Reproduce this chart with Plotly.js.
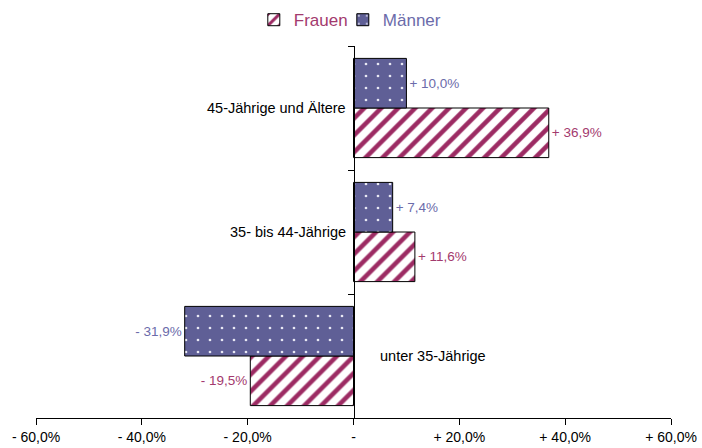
<!DOCTYPE html>
<html>
<head>
<meta charset="utf-8">
<script src="https://cdn.plot.ly/plotly-3.0.1.min.js"></script>
<style>html,body{margin:0;padding:0;background:#fff;}#chart{width:702px;height:448px;}</style>
</head>
<body>
<div id="chart"></div>
<script>
// Data
const categories = ["unter 35-Jährige", "35- bis 44-Jährige", "45-Jährige und Ältere"];
const frauen = [-19.5, 11.6, 36.9];
const maenner = [-31.9, 7.4, 10.0];
const tickValues = [-60, -40, -20, 0, 20, 40, 60];
const tickLabels = ["- 60,0%", "- 40,0%", "- 20,0%", "-", "+ 20,0%", "+ 40,0%", "+ 60,0%"];

const FR_COLOR = "#9c2b63";
const FR_TEXT = "#a33a6e";
const MA_COLOR = "#5f5f96";
const MA_TEXT = "#6b6baa";
const FONT = "Liberation Sans, Arial, sans-serif";

function fmt(v) {
  const s = Math.abs(v).toFixed(1).replace(".", ",");
  return (v < 0 ? "- " : "+ ") + s + "%";
}

const traces = [
  {
    type: "bar", orientation: "h",
    name: '<span style="color:' + FR_TEXT + '">Frauen</span>',
    legendwidth: 44,
    y: categories, x: frauen,
    text: frauen.map(fmt), textposition: "outside", cliponaxis: false,
    textfont: {family: FONT, size: 13.5, color: FR_TEXT},
    marker: {
      color: "#ffffff",
      line: {color: "#000000", width: 1},
      pattern: {shape: "/", fgcolor: FR_COLOR, bgcolor: "#ffffff", size: 12, solidity: 0.38, fillmode: "replace"}
    },
    hoverinfo: "skip"
  },
  {
    type: "bar", orientation: "h",
    name: '<span style="color:' + MA_TEXT + '">Männer</span>',
    legendwidth: 75,
    y: categories, x: maenner,
    text: maenner.map(fmt), textposition: "outside", cliponaxis: false,
    textfont: {family: FONT, size: 13.5, color: MA_TEXT},
    marker: {
      color: MA_COLOR,
      line: {color: "#000000", width: 1},
      pattern: {shape: ".", fgcolor: "#e8e8f4", bgcolor: MA_COLOR, size: 12, solidity: 0.04, fillmode: "replace"}
    },
    hoverinfo: "skip"
  }
];

// category labels placed next to the zero line
const annotations = categories.map((c, i) => {
  const right = frauen[i] < 0 && maenner[i] < 0;
  return {
    x: 0, y: c, xref: "x", yref: "y", text: c, showarrow: false,
    xanchor: right ? "left" : "right",
    xshift: right ? 24 : -6,
    font: {family: FONT, size: 14.5, color: "#000000"}
  };
});

const layout = {
  width: 702, height: 448,
  margin: {l: 36, r: 31, t: 46, b: 30},
  paper_bgcolor: "#ffffff", plot_bgcolor: "#ffffff",
  barmode: "group", bargap: 0.2, bargroupgap: 0,
  showlegend: true,
  legend: {
    orientation: "h", x: 0.343, xanchor: "left",
    yref: "container", y: 0.955, yanchor: "middle",
    font: {family: FONT, size: 17}, traceorder: "normal",
    itemwidth: 30, tracegroupgap: 0,
    entrywidthmode: "pixels"
  },
  xaxis: {
    range: [-60, 60], tickvals: tickValues, ticktext: tickLabels,
    showgrid: false, zeroline: false, showline: true, linecolor: "#000000", linewidth: 1,
    ticks: "outside", ticklen: 6, tickcolor: "#000000",
    tickfont: {family: FONT, size: 14, color: "#000000"}
  },
  yaxis: {
    type: "category", categoryorder: "array", categoryarray: categories,
    anchor: "free", position: 0.5,
    showgrid: false, zeroline: false, showline: true, linecolor: "#000000", linewidth: 1,
    ticks: "outside", ticklen: 6, tickcolor: "#000000", tickson: "boundaries",
    showticklabels: false
  },
  annotations: annotations,
  font: {family: FONT}
};

Plotly.newPlot("chart", traces, layout, {displayModeBar: false, staticPlot: true});
</script>
</body>
</html>
